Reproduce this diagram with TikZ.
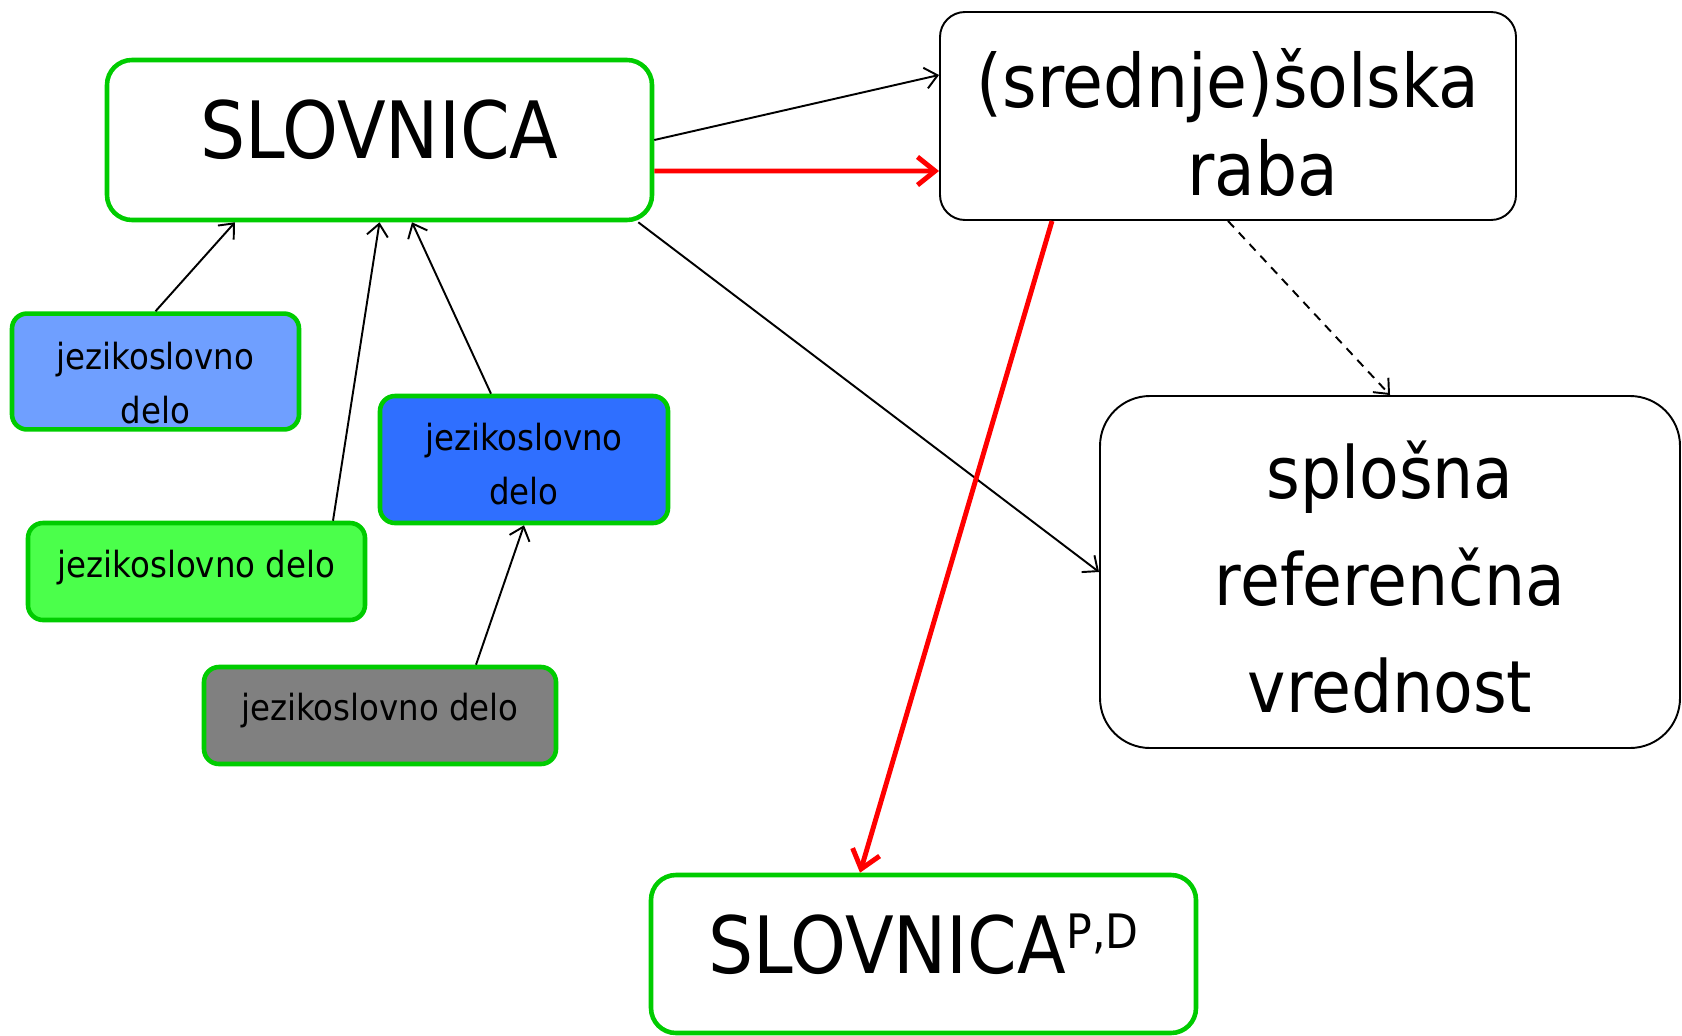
\documentclass[tikz,border=0pt]{standalone}
\usepackage{fontspec}
\setmainfont{DejaVu Sans Condensed}
\usetikzlibrary{arrows.meta}
\definecolor{boxgreen}{RGB}{0,204,0}
\definecolor{lightblue}{RGB}{111,159,255}
\definecolor{deepblue}{RGB}{47,111,255}
\definecolor{brightgreen}{RGB}{75,255,75}
\definecolor{midgray}{RGB}{128,128,128}

\begin{document}
\begin{tikzpicture}[
        % Slogi okvirjev
        main box/.style={
            draw=boxgreen,
            fill=white,
            line width=2.6pt,
            rounded corners=0.5cm,
            minimum width=10.9cm,
            minimum height=3.2cm,
            text height=33pt,
            text depth=0.4cm,
            font=\fontsize{45}{54}\selectfont
        },
        work box/.style={
            draw=boxgreen,
            line width=2.6pt,
            rounded corners=0.3cm,
            align=center,
            font=\fontsize{20.5}{30.6}\selectfont
        },
        use box/.style={
            draw=black,
            fill=white,
            line width=1.1pt,
            rounded corners=0.5cm,
            align=center
        },
        % Slogi povezav
        link/.style={
            black,
            line width=1.1pt,
            -{Straight Barb[length=7pt,width=12pt]}
        },
        red link/.style={
            red,
            line width=2.8pt,
            -{Straight Barb[length=10pt,width=16pt]}
        }
    ]
    \useasboundingbox (0,0) rectangle (33.64,-20.7);

    % --- GLAVNI OKVIRJI ---
    \node[main box] (slov) at (7.59,-2.80) {SLOVNICA};
    \node[use box, minimum width=11.52cm, minimum height=4.16cm, text height=91.5pt,
          font=\fontsize{42}{50.5}\selectfont] (sola) at (24.56,-2.32)
          {(srednje)šolska\\\hspace*{1.4cm}raba};
    \node[use box, rounded corners=1cm, minimum width=11.6cm, minimum height=7.04cm, text height=160pt,
          font=\fontsize{41}{60.7}\selectfont] (ref) at (27.8,-11.44)
          {splošna\\referenčna\\vrednost};
    \node[main box, minimum height=3.16cm] (pd) at (18.47,-19.08)
          {SLOVNICA\raisebox{14pt}{\fontsize{27}{27}\selectfont P,D}};

    % --- JEZIKOSLOVNA DELA ---
    \node[work box, fill=lightblue, minimum width=5.74cm, minimum height=2.26cm, text height=59pt] (delo1) at (3.11,-7.43) {jezikoslovno\\delo};
    \node[work box, fill=deepblue, minimum width=5.76cm, minimum height=2.54cm, text height=51pt] (delo2) at (10.48,-9.19) {jezikoslovno\\delo};
    \node[work box, fill=brightgreen, minimum width=6.74cm, minimum height=1.94cm, text depth=9.3pt] (delo3) at (3.93,-11.43) {jezikoslovno delo};
    \node[work box, fill=midgray, minimum width=7.04cm, minimum height=1.94cm, text depth=9.5pt] (delo4) at (7.6,-14.31) {jezikoslovno delo};

    % --- POVEZAVE ---
    \draw[link] (slov.east) -- ([yshift=0.82cm]sola.west);
    \draw[red link] ([yshift=-0.62cm]slov.east) -- ([yshift=-1.1cm]sola.west);
    \draw[link] ([xshift=-0.32cm]slov.south east) -- (ref.west);
    \draw[red link] ([xshift=-3.52cm]sola.south) -- ([xshift=-1.27cm]pd.north);
    \draw[link, dash pattern=on 5pt off 4pt] (sola.south) -- (ref.north);
    \draw[link] (delo1.north) -- ([xshift=-2.89cm]slov.south);
    \draw[link] ([xshift=2.73cm]delo3.north) -- (slov.south);
    \draw[link] ([xshift=-0.66cm]delo2.north) -- ([xshift=0.65cm]slov.south);
    \draw[link] ([xshift=1.92cm]delo4.north) -- (delo2.south);

\end{tikzpicture}
\end{document}
